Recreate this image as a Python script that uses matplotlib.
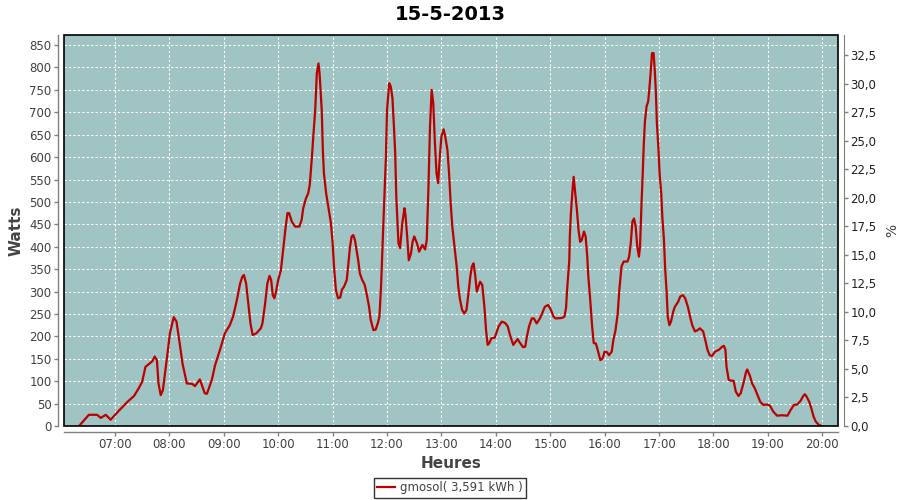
import matplotlib
matplotlib.use("Agg")
import matplotlib.pyplot as plt
from matplotlib.patches import Rectangle
from matplotlib.ticker import FuncFormatter, MultipleLocator
from matplotlib.lines import Line2D

title = "15-5-2013"
series_name = "gmosol( 3,591 kWh )"
x_label = "Heures"
y_label = "Watts"
y2_label = "%"

hours = [6.34, 6.52, 6.67, 6.74, 6.83, 6.92, 7.07, 7.23, 7.35, 7.44, 7.50, 7.56, 7.64, 7.69, 7.73, 7.77,
         7.80, 7.84, 7.88, 7.95, 8.01, 8.08, 8.13, 8.18, 8.24, 8.32, 8.42, 8.47, 8.56, 8.65, 8.69, 8.78,
         8.84, 8.93, 9.02, 9.11, 9.17, 9.24, 9.30, 9.34, 9.37, 9.41, 9.45, 9.49, 9.53, 9.60, 9.68, 9.71,
         9.76, 9.80, 9.84, 9.87, 9.90, 9.93, 9.96, 10.00, 10.05, 10.09, 10.13, 10.17, 10.20, 10.25, 10.31,
         10.39, 10.43, 10.46, 10.51, 10.55, 10.58, 10.62, 10.64, 10.68, 10.71, 10.74, 10.76, 10.80, 10.82,
         10.84, 10.88, 10.92, 10.97, 11.00, 11.03, 11.06, 11.10, 11.14, 11.17, 11.21, 11.26, 11.29, 11.32,
         11.35, 11.38, 11.41, 11.44, 11.47, 11.50, 11.54, 11.59, 11.63, 11.67, 11.70, 11.75, 11.79, 11.83,
         11.86, 11.89, 11.91, 11.94, 11.98, 12.00, 12.04, 12.07, 12.10, 12.13, 12.15, 12.17, 12.21, 12.24,
         12.28, 12.32, 12.34, 12.37, 12.40, 12.44, 12.47, 12.50, 12.55, 12.59, 12.65, 12.70, 12.73, 12.76,
         12.79, 12.82, 12.85, 12.88, 12.91, 12.94, 12.97, 13.00, 13.04, 13.07, 13.11, 13.14, 13.17, 13.20,
         13.24, 13.28, 13.31, 13.34, 13.38, 13.42, 13.46, 13.49, 13.53, 13.56, 13.59, 13.62, 13.65, 13.68,
         13.71, 13.75, 13.79, 13.82, 13.85, 13.88, 13.92, 13.98, 14.05, 14.11, 14.17, 14.22, 14.26, 14.32,
         14.37, 14.40, 14.44, 14.50, 14.54, 14.57, 14.61, 14.66, 14.70, 14.75, 14.81, 14.85, 14.90, 14.96,
         15.01, 15.06, 15.10, 15.21, 15.26, 15.29, 15.31, 15.35, 15.36, 15.38, 15.41, 15.43, 15.46, 15.49,
         15.52, 15.55, 15.58, 15.62, 15.65, 15.68, 15.70, 15.73, 15.77, 15.80, 15.84, 15.88, 15.92, 15.96,
         16.00, 16.04, 16.08, 16.13, 16.16, 16.20, 16.24, 16.27, 16.31, 16.35, 16.42, 16.45, 16.48, 16.51,
         16.54, 16.57, 16.60, 16.63, 16.65, 16.68, 16.70, 16.72, 16.74, 16.77, 16.80, 16.82, 16.85, 16.87,
         16.90, 16.92, 16.94, 16.96, 16.99, 17.01, 17.04, 17.06, 17.09, 17.11, 17.14, 17.16, 17.19, 17.22,
         17.26, 17.29, 17.35, 17.39, 17.44, 17.48, 17.53, 17.57, 17.61, 17.66, 17.71, 17.75, 17.81, 17.85,
         17.89, 17.93, 17.97, 18.03, 18.10, 18.15, 18.19, 18.22, 18.24, 18.28, 18.33, 18.37, 18.41, 18.46,
         18.50, 18.55, 18.60, 18.62, 18.67, 18.71, 18.76, 18.81, 18.86, 18.92, 18.99, 19.04, 19.10, 19.17,
         19.26, 19.36, 19.42, 19.48, 19.54, 19.60, 19.65, 19.68, 19.71, 19.76, 19.80, 19.84, 19.88, 19.94,
         20.00]

watts = [0, 25, 25, 18, 25, 14, 34, 54, 67, 85, 99, 132, 140, 145, 155, 147,
         95, 69, 80, 147, 207, 243, 233, 192, 140, 95, 94, 89, 104, 73, 72, 103,
         136, 170, 207, 225, 244, 281, 318, 333, 337, 318, 274, 229, 203, 207, 218, 229,
         274, 318, 335, 326, 292, 285, 300, 326, 348, 393, 437, 475, 475, 456, 445,
         445, 460, 486, 508, 519, 538, 601, 638, 705, 787, 809, 787, 705, 616,
         564, 520, 490, 452, 408, 348, 304, 285, 287, 304, 311, 326, 363, 400,
         423, 426, 415, 393, 370, 341, 327, 315, 292, 266, 237, 214, 215, 229,
         244, 311, 378, 475, 601, 705, 765, 757, 731, 661, 609, 512, 408, 397,
         452, 486, 470, 423, 370, 385, 411, 423, 408, 389, 404, 394, 415, 527,
         668, 750, 720, 631, 564, 542, 601, 646, 662, 646, 616, 564, 497, 445,
         400, 356, 311, 283, 259, 251, 259, 289, 333, 356, 363, 337, 300, 311,
         322, 315, 266, 214, 181, 185, 196, 197, 222, 233, 230, 222, 203, 181,
         189, 194, 186, 176, 177, 199, 222, 240, 240, 229, 240, 251, 266, 270,
         260, 244, 240, 241, 244, 263, 304, 370, 423, 475, 527, 556, 519, 482,
         437, 411, 415, 434, 423, 378, 333, 289, 222, 185, 184, 166, 147, 150,
         166, 165, 158, 166, 192, 214, 251, 304, 356, 367, 367, 378, 408, 456,
         463, 445, 400, 378, 400, 504, 564, 631, 679, 713, 724, 750, 795, 832,
         832, 795, 750, 676, 616, 564, 519, 467, 415, 356, 296, 244, 225, 233,
         255, 266, 277, 289, 292, 285, 266, 244, 225, 211, 214, 218, 211, 192,
         170, 158, 156, 166, 170, 176, 179, 170, 132, 103, 101, 101, 77, 67,
         73, 95, 121, 126, 112, 95, 84, 69, 54, 47, 48, 45, 32, 23,
         24, 23, 36, 47, 48, 56, 67, 71, 66, 54, 39, 21, 10, 2,
         0]

x_ticks = list(range(7, 21))

plt.rcParams['font.family'] = ['DejaVu Sans']

fig = plt.figure(figsize=(9, 5), dpi=100)
fig.patch.set_facecolor('white')
ax = fig.add_axes([64/900, 1-426/500, (838-64)/900, (426-35)/500])
ax.set_facecolor('#9FC4C3')

ax.plot(hours, watts, color='#BB0000', lw=1.6, zorder=3)

ax.set_xlim(6.0627, 20.289)
ax.set_ylim(0, 872.5)
ax.set_xticks(x_ticks)
ax.xaxis.set_major_formatter(FuncFormatter(lambda v, p: f"{int(v):02d}:00"))
ax.yaxis.set_major_locator(MultipleLocator(50))
ax.grid(True, color='white', linestyle=(0, (2, 2)), linewidth=0.8)
ax.set_axisbelow(True)

grey = '#808080'
for s in ['left', 'bottom']:
    ax.spines[s].set_position(('outward', 4))
    ax.spines[s].set_color(grey)
    ax.spines[s].set_linewidth(1)
ax.spines['top'].set_visible(False)
ax.spines['right'].set_visible(False)
ax.tick_params(axis='both', colors=grey, length=3, width=1, labelsize=8.5, labelcolor='#404040', pad=2)

ax2 = ax.twinx()
ax2.set_ylim(0, 34.25)
ax2.yaxis.set_major_locator(MultipleLocator(2.5))
ax2.yaxis.set_major_formatter(FuncFormatter(lambda v, p: f"{v:.1f}".replace('.', ',')))
for s in ['left', 'bottom', 'top']:
    ax2.spines[s].set_visible(False)
ax2.spines['right'].set_position(('outward', 4))
ax2.spines['right'].set_color(grey)
ax2.tick_params(axis='y', colors=grey, length=3, width=1, labelsize=8.5, labelcolor='#202020', pad=2)
ax2.set_ylabel(y2_label, fontsize=10, color='#404040', labelpad=6)

ax.add_patch(Rectangle((0, 0), 1, 1, transform=ax.transAxes, fill=False,
                       edgecolor='black', lw=1.2, clip_on=False, zorder=5))

ax.set_xlabel(x_label, fontsize=11, fontweight='bold', color='#444444', labelpad=3)
ax.set_ylabel(y_label, fontsize=11, fontweight='bold', color='#444444', labelpad=4)
fig.text(0.5, 1-15/500, title, ha='center', va='center', fontsize=14, fontweight='bold', color='black')

handle = Line2D([], [], color='#BB0000', lw=1.6)
leg = fig.legend([handle], [series_name], loc='center', bbox_to_anchor=(0.5, 1-488/500),
                 frameon=True, fancybox=False, fontsize=8.5, handlelength=1.5, borderpad=0.3,
                 handletextpad=0.4, borderaxespad=0)
leg.get_frame().set_edgecolor('black')
leg.get_frame().set_linewidth(1)
for t in leg.get_texts():
    t.set_color('#404040')

fig.savefig('out.png', dpi=100)
